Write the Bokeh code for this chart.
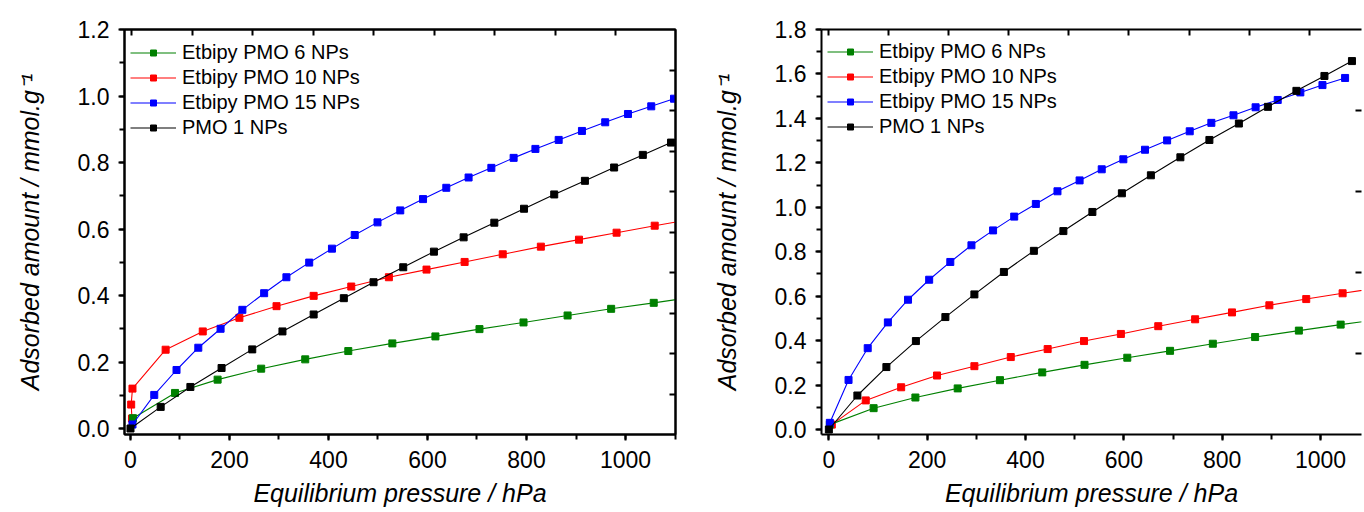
from bokeh.plotting import figure
from bokeh.layouts import row
from bokeh.models import (Range1d, LinearAxis, SingleIntervalTicker, FixedTicker,
                          NumeralTickFormatter, CustomJSTickFormatter, Legend, LegendItem)
from bokeh.embed import file_html
from bokeh.resources import INLINE

# ---------------- data ----------------
labels = ["Etbipy PMO 6 NPs", "Etbipy PMO 10 NPs", "Etbipy PMO 15 NPs", "PMO 1 NPs"]
colors = ["#008000", "#ff0000", "#0000ff", "#000000"]

# left panel
L_green_x = [5, 90, 176, 264, 353, 440, 529, 616, 705, 794, 883, 971, 1057, 1145]
L_green_y = [0.031, 0.107, 0.147, 0.180, 0.208, 0.233, 0.256, 0.277, 0.299, 0.319, 0.340, 0.360, 0.378, 0.397]
L_red_x = [3, 1.4, 4, 71, 146, 220, 295, 370, 446, 522, 598, 675, 752, 829, 906, 982, 1059, 1136]
L_red_y = [0.03, 0.072, 0.12, 0.237, 0.292, 0.333, 0.368, 0.399, 0.427, 0.455, 0.478, 0.501, 0.524, 0.547, 0.568, 0.589, 0.610, 0.630]
L_blue_x = [4, 48, 93, 137, 182, 226, 270, 315, 361, 407, 453, 499, 545, 591, 638, 683, 729, 774, 818, 865, 912, 959, 1005, 1052, 1098]
L_blue_y = [0.012, 0.101, 0.176, 0.243, 0.300, 0.357, 0.407, 0.455, 0.499, 0.541, 0.582, 0.620, 0.656, 0.690, 0.724, 0.755, 0.784, 0.814, 0.841, 0.868, 0.895, 0.921, 0.946, 0.969, 0.992]
L_black_x = [0, 61, 121, 184, 246, 307, 370, 431, 491, 551, 613, 673, 735, 795, 856, 918, 977, 1035, 1092]
L_black_y = [0.0, 0.065, 0.125, 0.182, 0.238, 0.292, 0.343, 0.392, 0.440, 0.485, 0.532, 0.575, 0.619, 0.661, 0.704, 0.745, 0.785, 0.823, 0.860]

# right panel
R_green_x = [2, 91, 176, 262, 348, 434, 520, 607, 694, 781, 867, 956, 1041, 1125]
R_green_y = [0.022, 0.096, 0.144, 0.185, 0.222, 0.257, 0.291, 0.323, 0.354, 0.386, 0.416, 0.445, 0.472, 0.497]
R_red_x = [6, 75, 147, 220, 296, 370, 445, 519, 594, 670, 745, 820, 896, 971, 1045, 1120]
R_red_y = [0.022, 0.131, 0.190, 0.243, 0.285, 0.326, 0.362, 0.398, 0.430, 0.465, 0.496, 0.527, 0.559, 0.587, 0.613, 0.638]
R_blue_x = [2, 40, 79, 120, 161, 204, 247, 290, 334, 377, 421, 465, 510, 555, 599, 643, 688, 734, 778, 823, 868, 913, 959, 1004, 1050]
R_blue_y = [0.030, 0.223, 0.366, 0.482, 0.584, 0.674, 0.754, 0.829, 0.896, 0.958, 1.015, 1.072, 1.121, 1.171, 1.216, 1.259, 1.301, 1.342, 1.380, 1.414, 1.450, 1.483, 1.517, 1.550, 1.582]
R_black_x = [0, 58, 117, 177, 237, 296, 356, 417, 477, 536, 596, 655, 715, 774, 834, 893, 951, 1008, 1064]
R_black_y = [0.0, 0.153, 0.281, 0.398, 0.506, 0.608, 0.709, 0.804, 0.893, 0.979, 1.063, 1.144, 1.225, 1.303, 1.377, 1.452, 1.524, 1.591, 1.658]

x_label = "Equilibrium pressure / hPa"
y_label = "Adsorbed amount / mmol.g\u207b\u00b9"

FONT = "Liberation Sans"


def make_panel(width, border_left, border_right, x_rng, y_rng, series, top_rng, top_ticks,
               right_rng, right_ticks, legend_loc, frame_outline):
    p = figure(width=width, height=512, x_range=Range1d(*x_rng), y_range=Range1d(*y_rng),
               output_backend="svg", toolbar_location=None,
               min_border_left=border_left, min_border_right=border_right,
               min_border_top=29, min_border_bottom=78,
               background_fill_color="white", border_fill_color="white")
    p.xgrid.visible = False
    p.ygrid.visible = False
    if frame_outline:
        p.outline_line_color = "black"
        p.outline_line_width = 2
    else:
        p.outline_line_color = None

    for ax, ticker in ((p.xaxis[0], SingleIntervalTicker(interval=200, num_minor_ticks=2)),
                       (p.yaxis[0], SingleIntervalTicker(interval=0.2, num_minor_ticks=2))):
        ax.ticker = ticker
        ax.axis_line_width = 2
        ax.major_tick_line_width = 2
        ax.minor_tick_line_width = 2
        ax.major_tick_in = 0
        ax.minor_tick_in = 0
        ax.major_tick_out = 6
        ax.minor_tick_out = 5
        ax.major_label_text_font = FONT
        ax.major_label_text_font_size = "23px"
        ax.major_label_text_color = "black"
        ax.axis_label_text_font = FONT
        ax.axis_label_text_font_size = "25px"
        ax.axis_label_text_font_style = "italic"
        ax.axis_label_text_color = "black"
    p.yaxis[0].formatter = NumeralTickFormatter(format="0.0")
    p.xaxis[0].axis_label = x_label
    p.yaxis[0].axis_label = y_label
    p.xaxis[0].major_label_standoff = 10
    p.xaxis[0].axis_label_standoff = 8
    p.yaxis[0].major_label_standoff = 9
    p.yaxis[0].axis_label_standoff = 31

    # inward-ticked top and right frame axes (unlabelled)
    blank = CustomJSTickFormatter(code="return ''")
    p.extra_x_ranges = {"top": Range1d(*top_rng)}
    p.extra_y_ranges = {"right": Range1d(*right_rng)}
    top = LinearAxis(x_range_name="top", ticker=FixedTicker(ticks=top_ticks), formatter=blank,
                     major_tick_in=6, major_tick_out=0, major_tick_line_width=2,
                     minor_tick_line_color=None, major_label_standoff=0, axis_line_width=2)
    right = LinearAxis(y_range_name="right", ticker=FixedTicker(ticks=right_ticks), formatter=blank,
                       major_tick_in=6, major_tick_out=0, major_tick_line_width=2,
                       minor_tick_line_color=None, major_label_standoff=0, axis_line_width=2)
    if not frame_outline:
        right.axis_line_color = None
    p.add_layout(top, "above")
    p.add_layout(right, "right")

    rend = {}
    for idx in (1, 0, 2, 3):
        xs, ys = series[idx]
        c = colors[idx]
        ln = p.line(xs, ys, line_color=c, line_width=1.1)
        sc = p.scatter(xs, ys, marker="square", size=7, fill_color=c, line_color=c)
        rend[idx] = [ln, sc]
    items = [LegendItem(label=labels[i], renderers=rend[i]) for i in range(4)]
    leg = Legend(items=items, location=legend_loc, padding=0, margin=0, spacing=0,
                 glyph_width=46, glyph_height=15, label_height=25, label_standoff=6,
                 label_text_font=FONT, label_text_font_size="20px", label_text_color="black",
                 background_fill_alpha=0, border_line_color=None)
    p.add_layout(leg)
    return p


p1 = make_panel(
    690, 124, 15, (-12.1, 1101), (-0.018, 1.2001),
    [(L_green_x, L_green_y), (L_red_x, L_red_y), (L_blue_x, L_blue_y), (L_black_x, L_black_y)],
    (-0.116, 8.99), list(range(0, 9)), (0, 10.0), list(range(1, 10)), (6, 294.5), True)

p2 = make_panel(
    674, 131, 3, (-15, 1083.4), (-0.0225, 1.8001),
    [(R_green_x, R_green_y), (R_red_x, R_red_y), (R_blue_x, R_blue_y), (R_black_x, R_black_y)],
    (-0.116, 8.87), list(range(0, 9)), (0, 5.0), list(range(1, 5)), (6, 295), False)

layout = row(p1, p2)
open("out.html", "w").write(file_html(layout, INLINE))
